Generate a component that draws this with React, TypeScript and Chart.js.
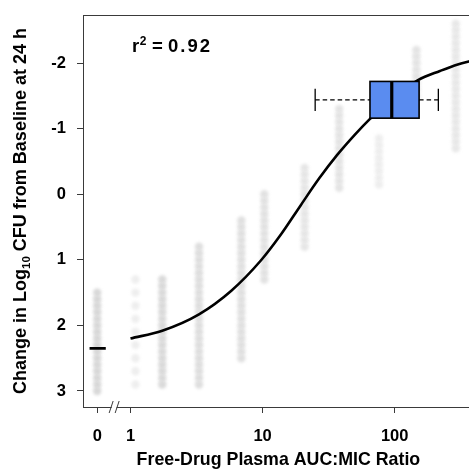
import { useEffect, useRef } from "react";
import { Chart, registerables } from "chart.js";

Chart.register(...registerables);

// ---- data ----
const xTickValues = [0.56, 1, 10, 100];
const xTickLabels = ["0", "1", "10", "100"];
const yTickValues = [-2, -1, 0, 1, 2, 3];

const curveX = [1, 1.74, 3.3, 5.8, 9.7, 13.8, 19.4, 27, 36.7, 50, 65, 100, 150, 220, 300, 390];
const curveY = [2.2, 2.08, 1.83, 1.47, 1.01, 0.61, 0.17, -0.25, -0.6, -0.91, -1.15, -1.5, -1.74, -1.88, -1.98, -2.04];

// untreated control (x = 0) mean marker
const controlX = [0.49, 0.65];
const controlY = [2.35, 2.35];

// box plot of target exposure: whisker low, Q1, median, Q3, whisker high
const boxStats = [25, 65, 95, 153, 214];
const boxCenterY = -1.44;

// faint individual observations, grouped by exposure
const columnX = [0.56, 1.09, 1.74, 3.3, 6.9, 10.3, 20.8, 38, 76, 146, 290];
const columnGray = [216, 238, 218, 222, 224, 226, 230, 228, 238, 228, 232];
const columnY = [
  [1.5, 1.6, 1.7, 1.8, 1.9, 2.0, 2.1, 2.2, 2.3, 2.4, 2.5, 2.6, 2.7, 2.8, 2.9, 3.0],
  [1.3, 1.5, 1.7, 1.9, 2.1, 2.3, 2.5, 2.7, 2.9],
  [1.3, 1.4, 1.5, 1.6, 1.7, 1.8, 1.9, 2.0, 2.1, 2.2, 2.3, 2.4, 2.5, 2.6, 2.7, 2.8, 2.9],
  [0.8, 0.9, 1.0, 1.1, 1.2, 1.3, 1.4, 1.5, 1.6, 1.7, 1.8, 1.9, 2.0, 2.1, 2.2, 2.3, 2.4, 2.5, 2.6, 2.7, 2.8, 2.9],
  [0.4, 0.5, 0.6, 0.7, 0.8, 0.9, 1.0, 1.1, 1.2, 1.3, 1.4, 1.5, 1.6, 1.7, 1.8, 1.9, 2.0, 2.1, 2.2, 2.3, 2.4, 2.5],
  [0.0, 0.1, 0.2, 0.3, 0.4, 0.5, 0.6, 0.7, 0.8, 0.9, 1.0, 1.1, 1.2, 1.3],
  [-0.4, -0.3, -0.2, -0.1, 0.0, 0.1, 0.2, 0.3, 0.4, 0.5, 0.6, 0.7, 0.8],
  [-1.3, -1.2, -1.1, -1.0, -0.9, -0.8, -0.7, -0.6, -0.5, -0.4, -0.3, -0.2, -0.1],
  [-0.85, -0.75, -0.65, -0.55, -0.45, -0.35, -0.25, -0.15],
  [-2.2, -2.1, -2.0, -1.9, -1.8, -1.7, -1.6, -1.5],
  [-2.6, -2.5, -2.4, -2.3, -2.2, -2.1, -2.0, -1.9, -1.8, -1.7, -1.6, -1.5, -1.4, -1.3, -1.2, -1.1, -1.0, -0.9, -0.8, -0.7],
];

const xBreakAt = 0.752;
const xMin = 0.437;
const xMax = 397;
const yMin = -2.733;
const yMax = 3.244;

const FONT = "'Liberation Sans', Arial, Helvetica, sans-serif";
const AXIS_COLOR = "#3a3a3a";

const extrasPlugin = {
  id: "extras",
  beforeDatasetDraw(chart: any, args: any) {
    if (args.index === 0) {
      chart.ctx.save();
      chart.ctx.filter = "blur(1.6px)";
    }
  },
  afterDatasetDraw(chart: any, args: any) {
    if (args.index === 0) {
      chart.ctx.restore();
    }
  },
  afterDatasetsDraw(chart: any) {
    const { ctx, chartArea, scales } = chart;
    const xs = scales.x;
    const ys = scales.y;
    // box plot
    const [wl, q1, med, q3, wh] = boxStats;
    const yc = ys.getPixelForValue(boxCenterY);
    const yTop = ys.getPixelForValue(boxCenterY - 0.28);
    const yBot = ys.getPixelForValue(boxCenterY + 0.28);
    const capTop = ys.getPixelForValue(boxCenterY - 0.17);
    const capBot = ys.getPixelForValue(boxCenterY + 0.17);
    const pWl = xs.getPixelForValue(wl);
    const pQ1 = xs.getPixelForValue(q1);
    const pMed = xs.getPixelForValue(med);
    const pQ3 = xs.getPixelForValue(q3);
    const pWh = xs.getPixelForValue(wh);
    ctx.save();
    ctx.strokeStyle = "#000";
    ctx.lineWidth = 1.3;
    ctx.setLineDash([4.5, 3]);
    ctx.beginPath();
    ctx.moveTo(pWl, yc);
    ctx.lineTo(pQ1, yc);
    ctx.moveTo(pQ3, yc);
    ctx.lineTo(pWh, yc);
    ctx.stroke();
    ctx.setLineDash([]);
    ctx.beginPath();
    ctx.moveTo(pWl, capTop);
    ctx.lineTo(pWl, capBot);
    ctx.moveTo(pWh, capTop);
    ctx.lineTo(pWh, capBot);
    ctx.stroke();
    ctx.fillStyle = "#5a8cf0";
    ctx.fillRect(pQ1, yTop, pQ3 - pQ1, yBot - yTop);
    ctx.lineWidth = 1.6;
    ctx.strokeRect(pQ1, yTop, pQ3 - pQ1, yBot - yTop);
    ctx.lineWidth = 3.2;
    ctx.beginPath();
    ctx.moveTo(pMed, yTop);
    ctx.lineTo(pMed, yBot);
    ctx.stroke();
    ctx.restore();

    // frame (top and right)
    ctx.save();
    ctx.strokeStyle = AXIS_COLOR;
    ctx.lineWidth = 1;
    ctx.beginPath();
    ctx.moveTo(chartArea.left, chartArea.top + 0.5);
    ctx.lineTo(chartArea.right, chartArea.top + 0.5);
    ctx.moveTo(chartArea.right - 0.5, chartArea.top);
    ctx.lineTo(chartArea.right - 0.5, chartArea.bottom);
    ctx.stroke();
    ctx.restore();
  },
  afterDraw(chart: any) {
    const { ctx, chartArea, scales } = chart;
    const xs = scales.x;
    // axis break
    const bx = xs.getPixelForValue(xBreakAt);
    const by = chartArea.bottom;
    ctx.save();
    ctx.fillStyle = "#fff";
    ctx.fillRect(bx - 2.5, by - 3, 5, 6);
    ctx.strokeStyle = AXIS_COLOR;
    ctx.lineWidth = 1;
    ctx.beginPath();
    ctx.moveTo(bx - 5, by + 6);
    ctx.lineTo(bx - 1, by - 6);
    ctx.moveTo(bx + 1, by + 6);
    ctx.lineTo(bx + 5, by - 6);
    ctx.stroke();
    ctx.restore();

    // y title with subscript
    const big = `bold 18px ${FONT}`;
    const small = `bold 11.5px ${FONT}`;
    const p1 = "Change in Log";
    const p2 = "10";
    const p3 = " CFU from Baseline at 24 h";
    ctx.save();
    ctx.fillStyle = "#000";
    ctx.font = big;
    const w1 = ctx.measureText(p1).width;
    const w3 = ctx.measureText(p3).width;
    ctx.font = small;
    const w2 = ctx.measureText(p2).width;
    const total = w1 + w2 + w3;
    ctx.translate(26, (chartArea.top + chartArea.bottom) / 2);
    ctx.rotate(-Math.PI / 2);
    ctx.textAlign = "left";
    ctx.textBaseline = "alphabetic";
    let tx = -total / 2;
    ctx.font = big;
    ctx.fillText(p1, tx, 0);
    tx += w1;
    ctx.font = small;
    ctx.fillText(p2, tx, 4);
    tx += w2;
    ctx.font = big;
    ctx.fillText(p3, tx, 0);
    ctx.restore();

    // x title
    ctx.save();
    ctx.fillStyle = "#000";
    ctx.font = `bold 17.8px ${FONT}`;
    ctx.textAlign = "center";
    ctx.textBaseline = "alphabetic";
    ctx.fillText("Free-Drug Plasma AUC:MIC Ratio", (chartArea.left + chartArea.right) / 2, 465);
    ctx.restore();

    // r^2 annotation
    ctx.save();
    ctx.fillStyle = "#000";
    ctx.textAlign = "left";
    ctx.textBaseline = "alphabetic";
    const rx = chartArea.left + 49;
    const ry = chartArea.top + 37;
    ctx.font = `bold 18.5px ${FONT}`;
    ctx.fillText("r", rx, ry);
    const wr = ctx.measureText("r").width;
    ctx.font = `bold 12px ${FONT}`;
    ctx.fillText("2", rx + wr + 0.5, ry - 7.5);
    ctx.font = `bold 18.5px ${FONT}`;
    ctx.fillText("=", rx + 20, ry);
    (ctx as any).letterSpacing = "2px";
    ctx.fillText("0.92", rx + 36, ry);
    ctx.restore();
  },
};

export default function App() {
  const ref = useRef<HTMLCanvasElement | null>(null);

  useEffect(() => {
    if (!ref.current) return;
    const scatterData: { x: number; y: number }[] = [];
    const scatterColors: string[] = [];
    columnX.forEach((cx, i) => {
      columnY[i].forEach((v) => {
        scatterData.push({ x: cx, y: v });
        const g = columnGray[i];
        scatterColors.push(`rgb(${g},${g},${g})`);
      });
    });
    const chart = new Chart(ref.current, {
      type: "line",
      data: {
        datasets: [
          {
            type: "scatter",
            data: scatterData,
            pointRadius: 4.2,
            pointBorderWidth: 0,
            pointBackgroundColor: scatterColors,
            pointBorderColor: scatterColors,
            order: 3,
          } as any,
          {
            type: "line",
            data: curveX.map((x, i) => ({ x, y: curveY[i] })),
            borderColor: "#000",
            borderWidth: 2.6,
            pointRadius: 0,
            cubicInterpolationMode: "monotone",
            fill: false,
            order: 1,
          },
          {
            type: "line",
            data: controlX.map((x, i) => ({ x, y: controlY[i] })),
            borderColor: "#000",
            borderWidth: 2.6,
            pointRadius: 0,
            fill: false,
            order: 1,
          },
        ],
      },
      options: {
        animation: false,
        responsive: false,
        devicePixelRatio: 1,
        layout: { padding: { top: 15, left: 0, right: 0, bottom: 0 } },
        plugins: {
          legend: { display: false },
          tooltip: { enabled: false },
        },
        scales: {
          x: {
            type: "logarithmic",
            min: xMin,
            max: xMax,
            afterBuildTicks: (s: any) => {
              s.ticks = xTickValues.map((v) => ({ value: v }));
            },
            afterFit: (s: any) => {
              s.height = 66;
              s.paddingLeft = 0;
              s.paddingRight = 0;
            },
            grid: { drawOnChartArea: false, drawTicks: true, tickLength: 6, color: AXIS_COLOR },
            border: { display: true, color: AXIS_COLOR, width: 1 },
            ticks: {
              autoSkip: false,
              maxRotation: 0,
              padding: 14,
              color: "#000",
              font: { family: FONT, size: 16.5, weight: "bold" },
              callback: (_v: any, i: number) => xTickLabels[i],
            },
          },
          y: {
            type: "linear",
            reverse: true,
            min: yMin,
            max: yMax,
            afterBuildTicks: (s: any) => {
              s.ticks = yTickValues.map((v) => ({ value: v }));
            },
            afterFit: (s: any) => {
              s.width = 83;
              s.paddingTop = 0;
              s.paddingBottom = 0;
            },
            grid: { drawOnChartArea: false, drawTicks: true, tickLength: 6, color: AXIS_COLOR },
            border: { display: true, color: AXIS_COLOR, width: 1 },
            ticks: {
              autoSkip: false,
              padding: 11,
              color: "#000",
              font: { family: FONT, size: 16.5, weight: "bold" },
              callback: (v: any) => String(v),
            },
          },
        },
      },
      plugins: [extrasPlugin],
    });
    return () => chart.destroy();
  }, []);

  return (
    <div style={{ position: "fixed", left: 0, top: 0, width: 469, height: 473, overflow: "hidden", background: "#fff" }}>
      <canvas ref={ref} width={478} height={473} style={{ width: 478, height: 473, display: "block" }} />
    </div>
  );
}
